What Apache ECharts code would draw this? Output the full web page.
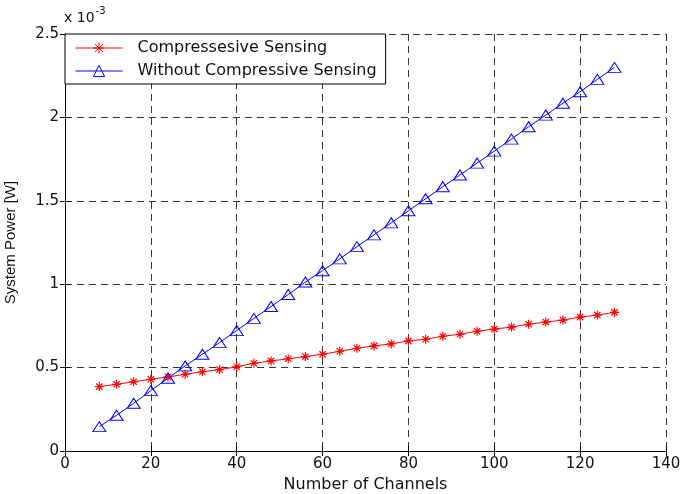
<!DOCTYPE html>
<html>
<head>
<meta charset="utf-8">
<script src="https://cdn.jsdelivr.net/npm/echarts@6/dist/echarts.min.js"></script>
<style>
  html, body { margin: 0; padding: 0; background: #fff; }
  #chart { width: 681px; height: 494px; }
</style>
</head>
<body>
<div id="chart"></div>
<script>
// Number of channels sampled
var channels = [8, 12, 16, 20, 24, 28, 32, 36, 40, 44, 48, 52, 56, 60, 64, 68,
                72, 76, 80, 84, 88, 92, 96, 100, 104, 108, 112, 116, 120, 124, 128];

// System power in units of 1e-3 W
var powerCS = [0.386, 0.400, 0.415, 0.430, 0.444, 0.460, 0.475, 0.488, 0.505, 0.526,
               0.540, 0.553, 0.566, 0.580, 0.598, 0.616, 0.630, 0.642, 0.660, 0.670,
               0.688, 0.700, 0.718, 0.731, 0.743, 0.760, 0.773, 0.785, 0.803, 0.815, 0.831];
var powerNoCS = [0.146, 0.214, 0.286, 0.362, 0.436, 0.510, 0.580, 0.650, 0.722, 0.795,
                 0.866, 0.938, 1.013, 1.081, 1.152, 1.225, 1.296, 1.368, 1.440, 1.512,
                 1.584, 1.655, 1.726, 1.798, 1.870, 1.944, 2.014, 2.085, 2.154, 2.228, 2.300];

var seriesNames = ['Compressesive Sensing', 'Without Compressive Sensing'];
var xTicks = { min: 0, max: 140, step: 20 };
var yTicks = { min: 0, max: 2.5, step: 0.5 };

var WIDE = 'DejaVu Sans, Verdana, sans-serif';
var NARROW = 'Liberation Sans, Arial, Helvetica, sans-serif';
var RED = '#ff0000';
var BLUE = '#0000ff';
var starPath = 'path://M5,0L5,10M0,5L10,5M1.5,1.5L8.5,8.5M1.5,8.5L8.5,1.5';

function pairs(xs, ys) {
  return xs.map(function (x, i) { return [x, ys[i]]; });
}

var gridLine = { show: true, lineStyle: { color: '#333', width: 1, type: [7, 5] } };
var boxTick = { show: true, inside: true, length: 5, lineStyle: { color: '#000' } };
var boxLine = { show: true, lineStyle: { color: '#000', width: 1 } };

var chart = echarts.init(document.getElementById('chart'), null, { renderer: 'canvas' });
chart.setOption({
  animation: false,
  backgroundColor: '#fff',
  textStyle: { fontFamily: WIDE },
  grid: { left: 65, right: 15, top: 34, bottom: 43, containLabel: false, outerBoundsMode: 'none' },
  legend: {
    orient: 'vertical',
    left: 65, top: 34,
    backgroundColor: '#fff',
    borderColor: '#000', borderWidth: 1,
    padding: [6, 9, 5, 10],
    itemWidth: 47, itemHeight: 14, itemGap: 7,
    lineStyle: { width: 1 },
    textStyle: { fontFamily: WIDE, fontSize: 16, lineHeight: 16, color: '#111', padding: [0, 0, 0, 10] },
    data: [
      { name: seriesNames[0], itemStyle: { color: 'rgba(0,0,0,0)', borderColor: RED, borderWidth: 1 } },
      { name: seriesNames[1], itemStyle: { color: 'rgba(0,0,0,0)', borderColor: BLUE, borderWidth: 1 } }
    ]
  },
  xAxis: [{
    type: 'value', min: xTicks.min, max: xTicks.max, interval: xTicks.step,
    name: 'Number of Channels', nameLocation: 'middle', nameGap: 25,
    nameTextStyle: { fontFamily: WIDE, fontSize: 16, color: '#111' },
    axisLine: boxLine, axisTick: boxTick,
    axisLabel: { fontFamily: WIDE, fontSize: 15, color: '#111', margin: 6 },
    splitLine: gridLine
  }, {
    type: 'value', position: 'top', min: xTicks.min, max: xTicks.max, interval: xTicks.step,
    axisLine: boxLine, axisTick: boxTick,
    axisLabel: { show: false }, splitLine: { show: false }
  }],
  yAxis: [{
    type: 'value', min: yTicks.min, max: yTicks.max, interval: yTicks.step,
    name: 'System Power [W]', nameLocation: 'middle', nameGap: 47, nameRotate: 90,
    nameTextStyle: { fontFamily: NARROW, fontSize: 15, color: '#111' },
    axisLine: boxLine, axisTick: boxTick,
    axisLabel: { fontFamily: WIDE, fontSize: 15, color: '#111', margin: 6,
      formatter: function (v) { return String(v); } },
    splitLine: gridLine
  }, {
    type: 'value', position: 'right', min: yTicks.min, max: yTicks.max, interval: yTicks.step,
    axisLine: boxLine, axisTick: boxTick,
    axisLabel: { show: false }, splitLine: { show: false }
  }],
  graphic: [{
    type: 'text', left: 64, top: 6,
    style: {
      text: '{b|x 10}{s|-3}',
      rich: {
        b: { fontFamily: WIDE, fontSize: 14, fill: '#111', padding: [7, 0, 0, 0] },
        s: { fontFamily: WIDE, fontSize: 10, fill: '#111', padding: [0, 0, 8, 1] }
      }
    }
  }],
  series: [{
    name: seriesNames[0], type: 'line',
    data: pairs(channels, powerCS),
    symbol: starPath, symbolSize: 9, showAllSymbol: true,
    lineStyle: { color: RED, width: 1 },
    itemStyle: { color: 'rgba(0,0,0,0)', borderColor: RED, borderWidth: 1.2 },
    z: 3
  }, {
    name: seriesNames[1], type: 'line',
    data: pairs(channels, powerNoCS),
    symbol: 'triangle', symbolSize: [13, 10], showAllSymbol: true,
    lineStyle: { color: BLUE, width: 1 },
    itemStyle: { color: 'rgba(0,0,0,0)', borderColor: BLUE, borderWidth: 1 },
    z: 3
  }]
});
</script>
</body>
</html>
